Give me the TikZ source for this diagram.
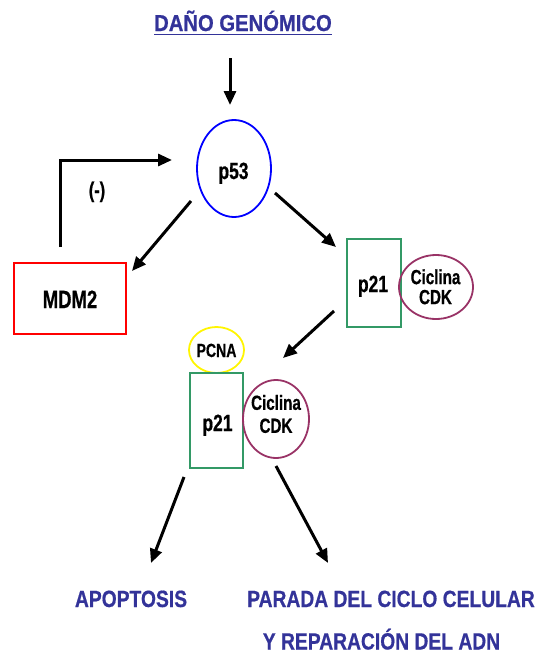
\documentclass[tikz,border=0pt]{standalone}
\usepackage{fontspec}
\setmainfont{Liberation Sans}[FakeStretch=0.82, BoldFeatures={FakeBold=0.6}]
\newfontfamily\headfont{Liberation Sans}[FakeStretch=0.88, BoldFeatures={FakeBold=0.6}]
\newfontfamily\tagfont{Liberation Sans}[FakeStretch=0.74, BoldFeatures={FakeBold=0.6}]
\usetikzlibrary{shapes.geometric,arrows.meta}
\definecolor{titleblue}{RGB}{51,51,153}
\definecolor{pblue}{RGB}{0,0,255}
\definecolor{mdmred}{RGB}{255,0,0}
\definecolor{boxgreen}{RGB}{51,153,102}
\definecolor{cycplum}{RGB}{153,51,102}
\definecolor{pcnayellow}{RGB}{255,245,0}
\newcommand{\fs}[1]{\fontsize{#1}{#1}\selectfont\bfseries}
\newcommand{\tg}[1]{\tagfont\fontsize{#1}{#1}\selectfont\bfseries}
\tikzset{
  lbl/.style={inner sep=0pt, outer sep=0pt},
  arr/.style={line width=3pt, -{Triangle[length=14pt,width=12pt]}},
  shapeline/.style={line width=1.8pt},
  oval/.style={ellipse, shapeline, inner sep=0pt},
  rectbox/.style={rectangle, shapeline, inner sep=0pt},
}
\begin{document}
\begin{tikzpicture}[x=1pt,y=-1pt]
\useasboundingbox (0,0) rectangle (539,653);

% title
\node[lbl, anchor=base, text=titleblue, font=\headfont\fontsize{23}{23}\selectfont\bfseries] (title) at (243,31) {DAÑO GENÓMICO};
\draw[titleblue, line width=1.8pt] ([yshift=-3.5pt]title.base west) -- ([yshift=-3.5pt]title.base east);

% p53
\node[oval, draw=pblue, minimum width=74pt, minimum height=97pt] (p53) at (234,168.5) {};
\node[lbl, anchor=base, font=\tg{23.5}] (p53t) at (233.5,179) {p53};

% MDM2
\node[rectbox, draw=mdmred, minimum width=112pt, minimum height=71pt] (mdm2) at (70,298.5) {};
\node[lbl, anchor=base, font=\tg{25}] (mdm2t) at (70,308) {MDM2};

% upper p21 with cyclin/CDK
\node[rectbox, draw=boxgreen, minimum width=54pt, minimum height=88pt] (p21a) at (374,283) {};
\node[lbl, anchor=base, font=\tg{23.5}] (p21at) at (373,292) {p21};
\node[oval, draw=cycplum, minimum width=74pt, minimum height=64pt] (cdka) at (436,287) {};
\node[lbl, align=center, font=\tg{20.5}] (cdkat) at (435.5,286.8) {Ciclina\\[-0.5pt]CDK};

% PCNA with lower p21 and cyclin/CDK
\node[oval, draw=pcnayellow, minimum width=55pt, minimum height=46pt] (pcna) at (216.5,350) {};
\node[lbl, anchor=base, font=\tg{19}] (pcnat) at (216.5,357) {PCNA};
\node[rectbox, draw=boxgreen, minimum width=53pt, minimum height=95pt] (p21b) at (216.5,420.5) {};
\node[lbl, anchor=base, font=\tg{23.5}] (p21bt) at (217.5,431) {p21};
\node[oval, draw=cycplum, minimum width=66pt, minimum height=78pt] (cdkb) at (276,419) {};
\node[lbl, align=center, font=\tg{20.5}] (cdkbt) at (276,414) {Ciclina\\[2.5pt]CDK};

% outcomes
\node[lbl, anchor=base, text=titleblue, font=\fs{23.5}] (apop) at (131,607) {APOPTOSIS};
\node[lbl, anchor=base, text=titleblue, font=\fs{23.5}] (arrest) at (391,607) {PARADA DEL CICLO CELULAR};
\node[lbl, anchor=base, text=titleblue, font=\fs{23.5}, text depth=0pt] (repair) at (381.5,649.5) {Y REPARACIÓN DEL ADN};

% feedback label
\node[lbl, anchor=base, font=\tg{22}] (neg) at (97,197.5) {(-)};

% arrow end points
\coordinate (dmgS) at (230,58);
\coordinate (dmgE) at (230,105);
\coordinate (fbS) at (60,247);
\coordinate (fbC) at (60,160);
\coordinate (fbE) at (172,160);
\coordinate (mdmS) at (191,201);
\coordinate (mdmE) at (132,271);
\coordinate (p21S) at (275,193);
\coordinate (p21E) at (336,247);
\coordinate (pcnaS) at (334,311);
\coordinate (pcnaE) at (283,358);
\coordinate (apoS) at (184,477);
\coordinate (apoE) at (151,563);
\coordinate (arrS) at (276,466);
\coordinate (arrE) at (328,563);

% connectors
\draw[arr] (dmgS) -- (dmgE);
\draw[arr, line join=miter] (fbS) -- (fbC) -- (fbE);
\draw[arr] (mdmS) -- (mdmE);
\draw[arr] (p21S) -- (p21E);
\draw[arr] (pcnaS) -- (pcnaE);
\draw[arr] (apoS) -- (apoE);
\draw[arr] (arrS) -- (arrE);
\end{tikzpicture}
\end{document}
